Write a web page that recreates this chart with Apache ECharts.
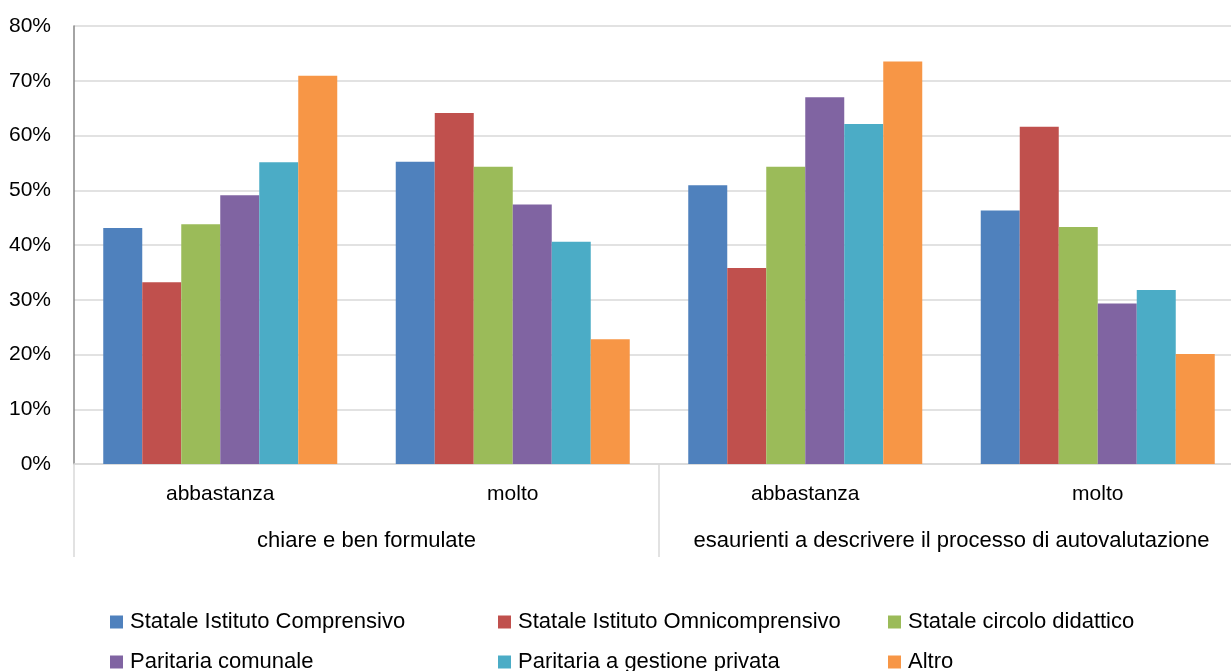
<!DOCTYPE html>
<html>
<head>
<meta charset="utf-8">
<script src="https://cdn.jsdelivr.net/npm/echarts@6/dist/echarts.min.js"></script>
<style>
  html, body { margin: 0; padding: 0; background: #fff; }
  #chart { width: 1231px; height: 671px; }
</style>
</head>
<body>
<div id="chart"></div>
<script>
// Inner categories (answers) and outer groups (questions)
const answers = ['abbastanza', 'molto', 'abbastanza', 'molto'];
const questions = ['chiare e ben formulate', 'esaurienti a descrivere il processo di autovalutazione'];

// Share of respondents (%) per school type, one value per answer column
const seriesNames = [
  'Statale Istituto Comprensivo',
  'Statale Istituto Omnicomprensivo',
  'Statale circolo didattico',
  'Paritaria comunale',
  'Paritaria a gestione privata',
  'Altro'
];
const istitutoComprensivo     = [43.1, 55.2, 50.9, 46.3];
const istitutoOmnicomprensivo = [33.2, 64.1, 35.8, 61.6];
const circoloDidattico        = [43.8, 54.3, 54.3, 43.3];
const paritariaComunale       = [49.1, 47.4, 67.0, 29.3];
const paritariaPrivata        = [55.1, 40.6, 62.1, 31.8];
const altro                   = [70.9, 22.8, 73.5, 20.1];

const yTicks = [0, 10, 20, 30, 40, 50, 60, 70, 80];

const values = [istitutoComprensivo, istitutoOmnicomprensivo, circoloDidattico,
                paritariaComunale, paritariaPrivata, altro];
const colors = ['#4F81BD', '#C0504D', '#9BBB59', '#8064A2', '#4BACC6', '#F79646'];

const font = 'Liberation Sans, Arial, sans-serif';
const fontSize = 21;
const bigFontSize = 22;

const series = seriesNames.map((name, i) => ({
  name: name,
  type: 'bar',
  xAxisIndex: 0,
  yAxisIndex: 0,
  data: values[i],
  barGap: '0%',
  barCategoryGap: '20%',
  itemStyle: { color: colors[i] },
  emphasis: { disabled: true }
}));

// Legend laid out as a 3 x 2 table: one legend component per entry
const legendCols = [110, 498, 888];
const legendRows = [611, 651];
const legends = seriesNames.map((name, i) => ({
  left: legendCols[i % 3],
  top: legendRows[Math.floor(i / 3)],
  padding: 0,
  itemWidth: 13,
  itemHeight: 13,
  icon: 'rect',
  selectedMode: false,
  data: [name],
  textStyle: { fontFamily: font, fontSize: bigFontSize, color: '#000', lineHeight: 22, padding: [0, 0, 0, 2] }
}));

const chart = echarts.init(document.getElementById('chart'), null, { renderer: 'canvas' });
chart.setOption({
  animation: false,
  backgroundColor: '#fff',
  textStyle: { fontFamily: font },
  // plot area runs a little past the right edge of the canvas
  grid: {
    left: 74, top: 26, width: 1170, height: 438,
    containLabel: false,
    outerBoundsMode: 'none'
  },
  legend: legends,
  xAxis: [
    {
      type: 'category',
      data: answers,
      position: 'bottom',
      axisLine: { show: true, lineStyle: { color: '#d9d9d9', width: 1.5 } },
      axisTick: { show: false },
      axisLabel: { interval: 0, margin: 20, fontSize: fontSize, fontFamily: font, color: '#000' }
    },
    {
      type: 'category',
      data: questions,
      position: 'bottom',
      axisLine: { show: false },
      axisTick: { show: true, interval: 0, length: 93, lineStyle: { color: '#d9d9d9', width: 1.5 } },
      axisLabel: { interval: 0, margin: 66, fontSize: bigFontSize, fontFamily: font, color: '#000' }
    }
  ],
  yAxis: {
    type: 'value',
    min: yTicks[0],
    max: yTicks[yTicks.length - 1],
    interval: yTicks[1] - yTicks[0],
    axisLine: { show: true, lineStyle: { color: '#868686', width: 1.5 } },
    axisTick: { show: false },
    splitLine: { lineStyle: { color: '#d9d9d9', width: 1.5 } },
    axisLabel: {
      margin: 23,
      fontSize: fontSize,
      fontFamily: font,
      color: '#000',
      formatter: v => v + '%'
    }
  },
  series: series
});
</script>
</body>
</html>
